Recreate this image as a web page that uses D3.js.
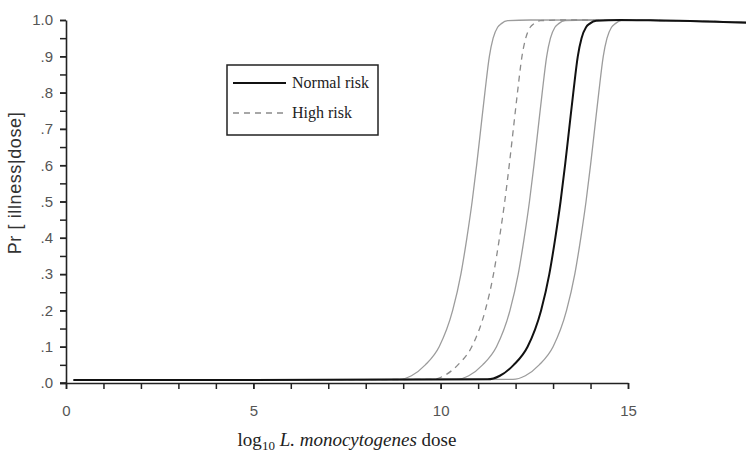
<!DOCTYPE html>
<html>
<head>
<meta charset="utf-8">
<script src="https://cdn.jsdelivr.net/npm/d3@7"></script>
<style>
  html, body { margin: 0; padding: 0; background: #fff; }
  svg { display: block; }
  .tick text { font-family: "Liberation Sans", Arial, sans-serif; }
</style>
</head>
<body>
<div id="chart"></div>
<script>
// Dose-response curves: probability of illness vs log10 dose.
const xMajorTicks = [0, 5, 10, 15];
const yMajorTicks = [0, 0.1, 0.2, 0.3, 0.4, 0.5, 0.6, 0.7, 0.8, 0.9, 1.0];
const yTickLabels = [".0", ".1", ".2", ".3", ".4", ".5", ".6", ".7", ".8", ".9", "1.0"];

// Probability levels shared by every curve (first = low-dose baseline, last three = plateau)
const probLevels = [0.008, 0.01, 0.02, 0.05, 0.1, 0.2, 0.3, 0.4, 0.5, 0.6, 0.7, 0.8, 0.9, 0.95, 0.98, 0.99, 0.998, 1.0, 0.999, 0.994];
const normalProbLevels = [0.008, 0.01, 0.02, 0.05, 0.1, 0.2, 0.3, 0.4, 0.5, 0.6, 0.7, 0.8, 0.9, 0.95, 0.98, 0.99, 0.998, 1.0, 0.999, 0.992];

// log10 dose at which each curve reaches the levels above
const curveA_x     = [0.2, 8.89, 9.22, 9.59, 9.96, 10.32, 10.54, 10.70, 10.84, 10.96, 11.07, 11.18, 11.30, 11.40, 11.52, 11.62, 11.79, 12.4, 15.5, 18.2];
const highRisk_x   = [0.2, 9.76, 10.09, 10.46, 10.83, 11.19, 11.41, 11.57, 11.71, 11.83, 11.94, 12.05, 12.17, 12.27, 12.39, 12.49, 12.66, 13.3, 15.5, 18.2];
const curveC_x     = [0.2, 10.42, 10.75, 11.12, 11.49, 11.85, 12.07, 12.23, 12.37, 12.49, 12.60, 12.71, 12.83, 12.93, 13.05, 13.15, 13.32, 13.9, 15.5, 18.2];
const normalRisk_x = [0.2, 11.25, 11.58, 11.95, 12.32, 12.68, 12.90, 13.06, 13.20, 13.32, 13.43, 13.54, 13.66, 13.76, 13.88, 13.98, 14.15, 14.8, 15.6, 18.2];
const curveE_x     = [0.2, 11.93, 12.26, 12.63, 13.00, 13.36, 13.58, 13.74, 13.88, 14.00, 14.11, 14.22, 14.34, 14.44, 14.56, 14.66, 14.83, 15.4, 16.0, 18.2];

const legendLabels = ["Normal risk", "High risk"];

const W = 746, H = 455;

const svg = d3.select("#chart").append("svg")
  .attr("width", W).attr("height", H);

const x = d3.scaleLinear().domain([0, 15]).range([66, 628]);
const y = d3.scaleLinear().domain([0, 1]).range([383, 20]);

// Minor ticks
const xMinor = d3.axisBottom(x).tickValues(d3.range(0, 16, 1)).tickSize(6).tickFormat("");
const yMinor = d3.axisLeft(y).tickValues(d3.range(0, 1.0001, 0.05)).tickSize(6).tickFormat("");

svg.append("g").attr("transform", `translate(0,${y(0)})`).call(xMinor)
  .call(g => g.select(".domain").remove())
  .call(g => g.selectAll("line").attr("stroke", "#222").attr("stroke-width", 1.5));
svg.append("g").attr("transform", `translate(${x(0)},0)`).call(yMinor)
  .call(g => g.select(".domain").remove())
  .call(g => g.selectAll("line").attr("stroke", "#222").attr("stroke-width", 1.5));

// Major axes with labels
const xAxis = d3.axisBottom(x).tickValues(xMajorTicks).tickSize(6).tickSizeOuter(0).tickPadding(16);
const yAxis = d3.axisLeft(y).tickValues(yMajorTicks).tickSize(6).tickSizeOuter(0).tickPadding(7)
  .tickFormat((d, i) => yTickLabels[i]);

svg.append("g").attr("transform", `translate(0,${y(0)})`).call(xAxis)
  .call(g => g.select(".domain").attr("stroke", "#222").attr("stroke-width", 1.6))
  .call(g => g.selectAll("line").attr("stroke", "#222").attr("stroke-width", 1.5))
  .call(g => g.selectAll("text").attr("font-size", 15).attr("fill", "#555"));
svg.append("g").attr("transform", `translate(${x(0)},0)`).call(yAxis)
  .call(g => g.select(".domain").attr("stroke", "#222").attr("stroke-width", 1.6))
  .call(g => g.selectAll("line").attr("stroke", "#222").attr("stroke-width", 1.5))
  .call(g => g.selectAll("text").attr("font-size", 15).attr("fill", "#555"));

// Extend the x axis line left to meet the y tick
svg.append("line").attr("x1", x(0) - 6).attr("x2", x(0)).attr("y1", y(0)).attr("y2", y(0))
  .attr("stroke", "#222").attr("stroke-width", 1.6);

// Curves
const line = d3.line()
  .x(d => x(d[0])).y(d => y(d[1]))
  .curve(d3.curveMonotoneX);

const zip = (xs, ps) => xs.map((v, i) => [v, ps[i]]);

const series = [
  { data: zip(curveA_x, probLevels), stroke: "#9c9c9c", width: 1.3, dash: null },
  { data: zip(curveC_x, probLevels), stroke: "#9c9c9c", width: 1.3, dash: null },
  { data: zip(curveE_x, probLevels), stroke: "#9c9c9c", width: 1.3, dash: null },
  { data: zip(highRisk_x, probLevels), stroke: "#8a8a8a", width: 1.3, dash: "6,5" },
  { data: zip(normalRisk_x, normalProbLevels), stroke: "#111", width: 2, dash: null }
];

svg.append("g").selectAll("path").data(series).join("path")
  .attr("d", d => line(d.data))
  .attr("fill", "none")
  .attr("stroke", d => d.stroke)
  .attr("stroke-width", d => d.width)
  .attr("stroke-dasharray", d => d.dash);

// Legend
const legend = svg.append("g");
legend.append("rect").attr("x", 227).attr("y", 65).attr("width", 151).attr("height", 70)
  .attr("fill", "#fff").attr("stroke", "#222").attr("stroke-width", 1.5);
const legendStyles = [
  { stroke: "#111", width: 2, dash: null },
  { stroke: "#8a8a8a", width: 1.3, dash: "6,5" }
];
legendLabels.forEach((lab, i) => {
  const ly = 83 + i * 30;
  legend.append("line").attr("x1", 233).attr("x2", 286).attr("y1", ly).attr("y2", ly)
    .attr("stroke", legendStyles[i].stroke).attr("stroke-width", legendStyles[i].width)
    .attr("stroke-dasharray", legendStyles[i].dash);
  legend.append("text").attr("x", 292).attr("y", ly + 5)
    .attr("font-family", "'Liberation Serif', 'Times New Roman', serif")
    .attr("font-size", 16).attr("fill", "#222").text(lab);
});

// Axis titles
const xTitle = svg.append("text")
  .attr("x", (x(0) + x(15)) / 2).attr("y", 446)
  .attr("text-anchor", "middle")
  .attr("font-family", "'Liberation Serif', 'Times New Roman', serif")
  .attr("font-size", 19).attr("fill", "#222");
xTitle.append("tspan").text("log");
xTitle.append("tspan").attr("font-size", 13).attr("dy", 4).text("10");
xTitle.append("tspan").attr("dy", -4).text(" ");
xTitle.append("tspan").attr("font-style", "italic").text("L. monocytogenes");
xTitle.append("tspan").text(" dose");

svg.append("text")
  .attr("transform", "translate(21,183) rotate(-90)")
  .attr("text-anchor", "middle")
  .attr("font-family", "'Liberation Sans', Arial, sans-serif")
  .attr("font-size", 18).attr("letter-spacing", 0.6).attr("fill", "#333")
  .text("Pr [ illness|dose]");
</script>
</body>
</html>
